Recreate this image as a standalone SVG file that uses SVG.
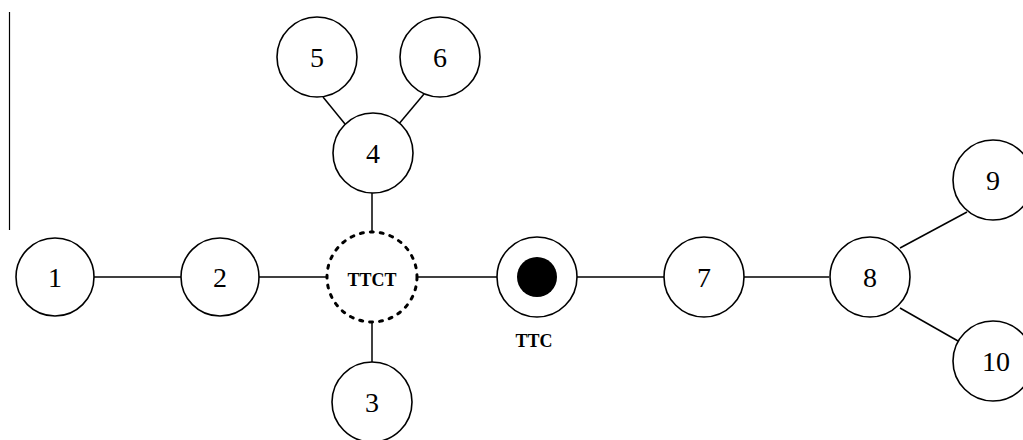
<svg xmlns="http://www.w3.org/2000/svg" width="1023" height="440" viewBox="0 0 1023 440">
<style>
.n{fill:#fff;stroke:#000;stroke-width:1.6}
.t{font-family:"Liberation Serif",serif;font-size:28px;text-anchor:middle;fill:#000}
.s{font-family:"Liberation Serif",serif;font-size:18px;font-weight:bold;text-anchor:middle;fill:#000}
#edges line{stroke:#000;stroke-width:1.5}
</style>
<rect width="1023" height="440" fill="#fff"/>
<line x1="9.5" y1="12" x2="9.5" y2="230" stroke="#000" stroke-width="1.2"/>
<g id="edges">
<line x1="94" y1="277" x2="181" y2="277"/>
<line x1="259" y1="277" x2="327" y2="277"/>
<line x1="417" y1="277" x2="497" y2="277"/>
<line x1="577" y1="277" x2="664" y2="277"/>
<line x1="744" y1="277" x2="829" y2="277"/>
<line x1="372" y1="193" x2="372" y2="232"/>
<line x1="372" y1="322" x2="372" y2="362"/>
<line x1="323" y1="97" x2="345" y2="124"/>
<line x1="424" y1="94" x2="398" y2="125"/>
<line x1="900" y1="248" x2="967" y2="212"/>
<line x1="900" y1="308" x2="958" y2="341"/>
</g>
<g id="n1"><circle class="n" cx="55" cy="277" r="39"/><text class="t" x="55" y="287">1</text></g>
<g id="n2"><circle class="n" cx="220" cy="277" r="39"/><text class="t" x="220" y="287">2</text></g>
<g id="ttct"><circle cx="372" cy="277" r="45" fill="#fff" stroke="#000" stroke-width="3" stroke-dasharray="3 7" stroke-linecap="round"/><text class="s" x="372" y="286">TTCT</text></g>
<g id="ttc"><circle class="n" cx="537" cy="277" r="40"/><circle cx="537" cy="277" r="20" fill="#000"/><text class="s" x="534" y="347">TTC</text></g>
<g id="n7"><circle class="n" cx="704" cy="277" r="40"/><text class="t" x="704" y="287">7</text></g>
<g id="n8"><circle class="n" cx="870" cy="277" r="40"/><text class="t" x="870" y="287">8</text></g>
<g id="n9"><circle class="n" cx="993" cy="180" r="40"/><text class="t" x="993" y="190">9</text></g>
<g id="n10"><circle class="n" cx="993" cy="361" r="40"/><text class="t" x="996" y="371">10</text></g>
<g id="n3"><circle class="n" cx="372" cy="402" r="40"/><text class="t" x="372" y="412">3</text></g>
<g id="n4"><circle class="n" cx="373" cy="153" r="40"/><text class="t" x="373" y="163">4</text></g>
<g id="n5"><circle class="n" cx="317" cy="57" r="40"/><text class="t" x="317" y="67">5</text></g>
<g id="n6"><circle class="n" cx="440" cy="57" r="40"/><text class="t" x="440" y="67">6</text></g>
</svg>
